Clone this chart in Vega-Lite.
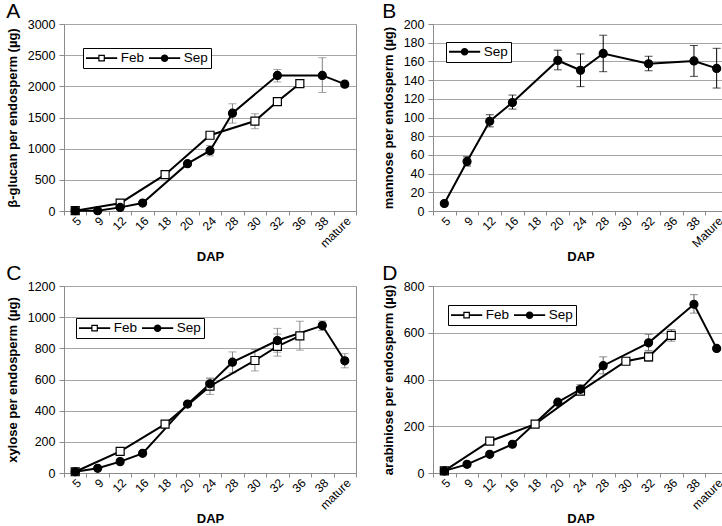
{
  "$schema": "https://vega.github.io/schema/vega-lite/v6.json",
  "background": "white",
  "padding": {"left": 5, "top": 0, "right": 0, "bottom": 0},
  "columns": 2,
  "spacing": {"row": -2, "column": 20},
  "config": {
    "font": "Liberation Sans",
    "view": {"stroke": "#8c8c8c", "strokeWidth": 1},
    "axis": {"domainColor": "#8c8c8c", "tickColor": "#8c8c8c", "gridColor": "#a6a6a6", "labelColor": "#000", "titleColor": "#000", "labelFontSize": 12.5, "titleFontSize": 13, "titleFontWeight": "bold", "tickSize": 5, "labelFont": "Liberation Sans", "titleFont": "Liberation Sans"},
    "axisX": {"grid": false, "labelAngle": -45, "tickBand": "extent", "labelPadding": 0, "titlePadding": 1, "labelFontSize": 12, "tickSize": 4},
    "axisY": {"grid": true, "labelPadding": 4, "titlePadding": 8, "format": "d"},
    "title": {"anchor": "start", "frame": "bounds", "fontSize": 21, "fontWeight": "normal", "color": "#000", "offset": -6, "dy": -2},
    "legend": {"orient": "none", "direction": "horizontal", "strokeColor": "black", "fillColor": "white", "padding": 3, "labelFontSize": 13.5, "labelColor": "black", "symbolOffset": 8.85, "labelOffset": 12.5, "columnPadding": 3, "cornerRadius": 0, "symbolSize": 36, "symbolStrokeWidth": 0, "symbolFillColor": "black", "symbolOpacity": 1}
  },
  "resolve": {"scale": {"x": "independent", "y": "independent", "shape": "independent", "fill": "independent"}, "legend": {"shape": "independent", "fill": "independent"}},
  "concat": [
    {
      "width": 292, "height": 187,
      "title": {"text": "A"},
      "data": {"values": [
        {"d": "5", "s": "Feb", "v": 5},
        {"d": "12", "s": "Feb", "v": 125},
        {"d": "18", "s": "Feb", "v": 583},
        {"d": "24", "s": "Feb", "v": 1215, "lo": 1180, "hi": 1270},
        {"d": "30", "s": "Feb", "v": 1443, "lo": 1320, "hi": 1560},
        {"d": "32", "s": "Feb", "v": 1755},
        {"d": "36", "s": "Feb", "v": 2045},
        {"d": "5", "s": "Sep", "v": 5},
        {"d": "9", "s": "Sep", "v": 5},
        {"d": "12", "s": "Sep", "v": 58},
        {"d": "16", "s": "Sep", "v": 127},
        {"d": "20", "s": "Sep", "v": 759, "lo": 725, "hi": 795},
        {"d": "24", "s": "Sep", "v": 968, "lo": 885, "hi": 1050},
        {"d": "28", "s": "Sep", "v": 1570, "lo": 1410, "hi": 1720},
        {"d": "32", "s": "Sep", "v": 2175, "lo": 2070, "hi": 2270},
        {"d": "38", "s": "Sep", "v": 2175, "lo": 1900, "hi": 2460},
        {"d": "mature", "s": "Sep", "v": 2035, "lo": 1990, "hi": 2085}
      ]},
      "encoding": {
        "x": {"field": "d", "type": "ordinal", "title": "DAP", "scale": {"type": "band", "domain": ["5","9","12","16","18","20","24","28","30","32","36","38","mature"], "paddingInner": 0, "paddingOuter": 0}},
        "y": {"field": "v", "type": "quantitative", "title": "β-glucan per endosperm (µg)", "scale": {"domain": [0, 3000], "nice": false}, "axis": {"values": [0,500,1000,1500,2000,2500,3000]}}
      },
      "resolve": {"scale": {"shape": "independent", "fill": "independent"}, "legend": {"shape": "independent", "fill": "independent"}},
      "layer": [
        {"transform": [{"filter": "isValid(datum.lo)"}], "mark": {"type": "rule", "color": "#808080", "strokeWidth": 1}, "encoding": {"y": {"field": "lo", "type": "quantitative", "title": "β-glucan per endosperm (µg)", "scale": {"domain": [0, 3000], "nice": false}}, "y2": {"field": "hi"}}},
        {"transform": [{"filter": "isValid(datum.lo)"}], "mark": {"type": "tick", "color": "#808080", "thickness": 1, "size": 8}, "encoding": {"y": {"field": "lo", "type": "quantitative", "title": "β-glucan per endosperm (µg)", "scale": {"domain": [0, 3000], "nice": false}}}},
        {"transform": [{"filter": "isValid(datum.lo)"}], "mark": {"type": "tick", "color": "#808080", "thickness": 1, "size": 8}, "encoding": {"y": {"field": "hi", "type": "quantitative", "title": "β-glucan per endosperm (µg)", "scale": {"domain": [0, 3000], "nice": false}}}},
        {"mark": {"type": "line", "color": "black", "strokeWidth": 2}, "encoding": {"detail": {"field": "s"}, "order": {"value": null}}},
        {"mark": {"type": "point", "filled": true, "size": 64, "stroke": "black", "strokeWidth": 1.2, "opacity": 1},
         "encoding": {
           "shape": {"field": "s", "type": "nominal", "scale": {"domain": ["Feb","Sep"], "range": ["square","circle"]}, "legend": null},
           "fill": {"field": "s", "type": "nominal", "scale": {"domain": ["Feb","Sep"], "range": ["white","black"]}, "legend": null}
         }},
        {"mark": {"type": "point", "filled": true, "size": 36, "color": "black", "opacity": 0},
         "encoding": {
           "shape": {"field": "s", "type": "nominal", "scale": {"domain": ["Feb","Sep"], "range": ["M-5.2,-0.33H-1.1V0.33H-5.2ZM1.1,-0.33H5.2V0.33H1.1ZM-1.1,-1.1H1.1V1.1H-1.1ZM-0.7,-0.7V0.7H0.7V-0.7Z", "M-5.2,-0.33H-1.2V0.33H-5.2ZM1.2,-0.33H5.2V0.33H1.2ZM-1.25,0A1.25,1.25,0,1,1,1.25,0A1.25,1.25,0,1,1,-1.25,0Z"]},
             "legend": {"title": null, "legendX": 19, "legendY": 24, "symbolOpacity": 1}}
         }}
      ]
    },
    {
      "width": 295, "height": 187,
      "title": {"text": "B"},
      "data": {"values": [
        {"d": "5", "s": "Sep", "v": 8},
        {"d": "9", "s": "Sep", "v": 53, "lo": 48, "hi": 58},
        {"d": "12", "s": "Sep", "v": 96, "lo": 90, "hi": 103},
        {"d": "16", "s": "Sep", "v": 116, "lo": 109, "hi": 124},
        {"d": "20", "s": "Sep", "v": 161, "lo": 151, "hi": 172},
        {"d": "24", "s": "Sep", "v": 150.5, "lo": 133, "hi": 168},
        {"d": "28", "s": "Sep", "v": 168.5, "lo": 149, "hi": 188},
        {"d": "32", "s": "Sep", "v": 157.5, "lo": 150, "hi": 165.5},
        {"d": "38", "s": "Sep", "v": 160.5, "lo": 144, "hi": 177},
        {"d": "Mature", "s": "Sep", "v": 152.5, "lo": 131.5, "hi": 174}
      ]},
      "encoding": {
        "x": {"field": "d", "type": "ordinal", "title": "DAP", "scale": {"type": "band", "domain": ["5","9","12","16","18","20","24","28","30","32","36","38","Mature"], "paddingInner": 0, "paddingOuter": 0}},
        "y": {"field": "v", "type": "quantitative", "title": "mannose per endosperm (µg)", "scale": {"domain": [0, 200], "nice": false}, "axis": {"values": [0,20,40,60,80,100,120,140,160,180,200]}}
      },
      "resolve": {"scale": {"shape": "independent", "fill": "independent"}, "legend": {"shape": "independent", "fill": "independent"}},
      "layer": [
        {"transform": [{"filter": "isValid(datum.lo)"}], "mark": {"type": "rule", "color": "#000", "strokeWidth": 1}, "encoding": {"y": {"field": "lo", "type": "quantitative", "title": "mannose per endosperm (µg)", "scale": {"domain": [0, 200], "nice": false}}, "y2": {"field": "hi"}}},
        {"transform": [{"filter": "isValid(datum.lo)"}], "mark": {"type": "tick", "color": "#000", "thickness": 1, "size": 8}, "encoding": {"y": {"field": "lo", "type": "quantitative", "title": "mannose per endosperm (µg)", "scale": {"domain": [0, 200], "nice": false}}}},
        {"transform": [{"filter": "isValid(datum.lo)"}], "mark": {"type": "tick", "color": "#000", "thickness": 1, "size": 8}, "encoding": {"y": {"field": "hi", "type": "quantitative", "title": "mannose per endosperm (µg)", "scale": {"domain": [0, 200], "nice": false}}}},
        {"mark": {"type": "line", "color": "black", "strokeWidth": 2}, "encoding": {"detail": {"field": "s"}, "order": {"value": null}}},
        {"mark": {"type": "point", "filled": true, "size": 64, "stroke": "black", "strokeWidth": 1.2, "opacity": 1},
         "encoding": {
           "shape": {"field": "s", "type": "nominal", "scale": {"domain": ["Sep"], "range": ["circle"]}, "legend": null},
           "fill": {"field": "s", "type": "nominal", "scale": {"domain": ["Sep"], "range": ["black"]}, "legend": null}
         }},
        {"mark": {"type": "point", "filled": true, "size": 36, "color": "black", "opacity": 0},
         "encoding": {
           "shape": {"field": "s", "type": "nominal", "scale": {"domain": ["Sep"], "range": ["M-5.2,-0.33H-1.2V0.33H-5.2ZM1.2,-0.33H5.2V0.33H1.2ZM-1.25,0A1.25,1.25,0,1,1,1.25,0A1.25,1.25,0,1,1,-1.25,0Z"]},
             "legend": {"title": null, "legendX": 13, "legendY": 18, "symbolOpacity": 1}}
         }}
      ]
    },
    {
      "width": 292, "height": 187,
      "title": {"text": "C"},
      "data": {"values": [
        {"d": "5", "s": "Feb", "v": 8},
        {"d": "12", "s": "Feb", "v": 139},
        {"d": "18", "s": "Feb", "v": 314},
        {"d": "24", "s": "Feb", "v": 557, "lo": 504, "hi": 610},
        {"d": "30", "s": "Feb", "v": 722, "lo": 655, "hi": 792},
        {"d": "32", "s": "Feb", "v": 813, "lo": 750, "hi": 892},
        {"d": "36", "s": "Feb", "v": 880, "lo": 788, "hi": 974},
        {"d": "5", "s": "Sep", "v": 8},
        {"d": "9", "s": "Sep", "v": 30},
        {"d": "12", "s": "Sep", "v": 73},
        {"d": "16", "s": "Sep", "v": 126},
        {"d": "20", "s": "Sep", "v": 442},
        {"d": "24", "s": "Sep", "v": 572, "lo": 545, "hi": 605},
        {"d": "28", "s": "Sep", "v": 711, "lo": 643, "hi": 777},
        {"d": "32", "s": "Sep", "v": 850, "lo": 775, "hi": 928},
        {"d": "38", "s": "Sep", "v": 946, "lo": 914, "hi": 976},
        {"d": "mature", "s": "Sep", "v": 720, "lo": 675, "hi": 766}
      ]},
      "encoding": {
        "x": {"field": "d", "type": "ordinal", "title": "DAP", "scale": {"type": "band", "domain": ["5","9","12","16","18","20","24","28","30","32","36","38","mature"], "paddingInner": 0, "paddingOuter": 0}},
        "y": {"field": "v", "type": "quantitative", "title": "xylose per endosperm (µg)", "scale": {"domain": [0, 1200], "nice": false}, "axis": {"values": [0,200,400,600,800,1000,1200]}}
      },
      "resolve": {"scale": {"shape": "independent", "fill": "independent"}, "legend": {"shape": "independent", "fill": "independent"}},
      "layer": [
        {"transform": [{"filter": "isValid(datum.lo)"}], "mark": {"type": "rule", "color": "#808080", "strokeWidth": 1}, "encoding": {"y": {"field": "lo", "type": "quantitative", "title": "xylose per endosperm (µg)", "scale": {"domain": [0, 1200], "nice": false}}, "y2": {"field": "hi"}}},
        {"transform": [{"filter": "isValid(datum.lo)"}], "mark": {"type": "tick", "color": "#808080", "thickness": 1, "size": 8}, "encoding": {"y": {"field": "lo", "type": "quantitative", "title": "xylose per endosperm (µg)", "scale": {"domain": [0, 1200], "nice": false}}}},
        {"transform": [{"filter": "isValid(datum.lo)"}], "mark": {"type": "tick", "color": "#808080", "thickness": 1, "size": 8}, "encoding": {"y": {"field": "hi", "type": "quantitative", "title": "xylose per endosperm (µg)", "scale": {"domain": [0, 1200], "nice": false}}}},
        {"mark": {"type": "line", "color": "black", "strokeWidth": 2}, "encoding": {"detail": {"field": "s"}, "order": {"value": null}}},
        {"mark": {"type": "point", "filled": true, "size": 64, "stroke": "black", "strokeWidth": 1.2, "opacity": 1},
         "encoding": {
           "shape": {"field": "s", "type": "nominal", "scale": {"domain": ["Feb","Sep"], "range": ["square","circle"]}, "legend": null},
           "fill": {"field": "s", "type": "nominal", "scale": {"domain": ["Feb","Sep"], "range": ["white","black"]}, "legend": null}
         }},
        {"mark": {"type": "point", "filled": true, "size": 36, "color": "black", "opacity": 0},
         "encoding": {
           "shape": {"field": "s", "type": "nominal", "scale": {"domain": ["Feb","Sep"], "range": ["M-5.2,-0.33H-1.1V0.33H-5.2ZM1.1,-0.33H5.2V0.33H1.1ZM-1.1,-1.1H1.1V1.1H-1.1ZM-0.7,-0.7V0.7H0.7V-0.7Z", "M-5.2,-0.33H-1.2V0.33H-5.2ZM1.2,-0.33H5.2V0.33H1.2ZM-1.25,0A1.25,1.25,0,1,1,1.25,0A1.25,1.25,0,1,1,-1.25,0Z"]},
             "legend": {"title": null, "legendX": 12, "legendY": 32, "symbolOpacity": 1}}
         }}
      ]
    },
    {
      "width": 295, "height": 187,
      "title": {"text": "D"},
      "data": {"values": [
        {"d": "5", "s": "Feb", "v": 9},
        {"d": "12", "s": "Feb", "v": 136},
        {"d": "18", "s": "Feb", "v": 209},
        {"d": "24", "s": "Feb", "v": 350, "lo": 335, "hi": 368},
        {"d": "30", "s": "Feb", "v": 478},
        {"d": "32", "s": "Feb", "v": 497, "lo": 478, "hi": 518},
        {"d": "36", "s": "Feb", "v": 589, "lo": 564, "hi": 614},
        {"d": "5", "s": "Sep", "v": 9},
        {"d": "9", "s": "Sep", "v": 37},
        {"d": "12", "s": "Sep", "v": 80},
        {"d": "16", "s": "Sep", "v": 123},
        {"d": "20", "s": "Sep", "v": 303},
        {"d": "24", "s": "Sep", "v": 358, "lo": 340, "hi": 378},
        {"d": "28", "s": "Sep", "v": 459, "lo": 424, "hi": 497},
        {"d": "32", "s": "Sep", "v": 557, "lo": 524, "hi": 593},
        {"d": "38", "s": "Sep", "v": 722, "lo": 684, "hi": 763},
        {"d": "mature", "s": "Sep", "v": 533}
      ]},
      "encoding": {
        "x": {"field": "d", "type": "ordinal", "title": "DAP", "scale": {"type": "band", "domain": ["5","9","12","16","18","20","24","28","30","32","36","38","mature"], "paddingInner": 0, "paddingOuter": 0}},
        "y": {"field": "v", "type": "quantitative", "title": "arabiniose per endosperm (µg)", "scale": {"domain": [0, 800], "nice": false}, "axis": {"values": [0,200,400,600,800]}}
      },
      "resolve": {"scale": {"shape": "independent", "fill": "independent"}, "legend": {"shape": "independent", "fill": "independent"}},
      "layer": [
        {"transform": [{"filter": "isValid(datum.lo)"}], "mark": {"type": "rule", "color": "#606060", "strokeWidth": 1}, "encoding": {"y": {"field": "lo", "type": "quantitative", "title": "arabiniose per endosperm (µg)", "scale": {"domain": [0, 800], "nice": false}}, "y2": {"field": "hi"}}},
        {"transform": [{"filter": "isValid(datum.lo)"}], "mark": {"type": "tick", "color": "#606060", "thickness": 1, "size": 8}, "encoding": {"y": {"field": "lo", "type": "quantitative", "title": "arabiniose per endosperm (µg)", "scale": {"domain": [0, 800], "nice": false}}}},
        {"transform": [{"filter": "isValid(datum.lo)"}], "mark": {"type": "tick", "color": "#606060", "thickness": 1, "size": 8}, "encoding": {"y": {"field": "hi", "type": "quantitative", "title": "arabiniose per endosperm (µg)", "scale": {"domain": [0, 800], "nice": false}}}},
        {"mark": {"type": "line", "color": "black", "strokeWidth": 2}, "encoding": {"detail": {"field": "s"}, "order": {"value": null}}},
        {"mark": {"type": "point", "filled": true, "size": 64, "stroke": "black", "strokeWidth": 1.2, "opacity": 1},
         "encoding": {
           "shape": {"field": "s", "type": "nominal", "scale": {"domain": ["Feb","Sep"], "range": ["square","circle"]}, "legend": null},
           "fill": {"field": "s", "type": "nominal", "scale": {"domain": ["Feb","Sep"], "range": ["white","black"]}, "legend": null}
         }},
        {"mark": {"type": "point", "filled": true, "size": 36, "color": "black", "opacity": 0},
         "encoding": {
           "shape": {"field": "s", "type": "nominal", "scale": {"domain": ["Feb","Sep"], "range": ["M-5.2,-0.33H-1.1V0.33H-5.2ZM1.1,-0.33H5.2V0.33H1.1ZM-1.1,-1.1H1.1V1.1H-1.1ZM-0.7,-0.7V0.7H0.7V-0.7Z", "M-5.2,-0.33H-1.2V0.33H-5.2ZM1.2,-0.33H5.2V0.33H1.2ZM-1.25,0A1.25,1.25,0,1,1,1.25,0A1.25,1.25,0,1,1,-1.25,0Z"]},
             "legend": {"title": null, "legendX": 15, "legendY": 19, "symbolOpacity": 1}}
         }}
      ]
    }
  ]
}
